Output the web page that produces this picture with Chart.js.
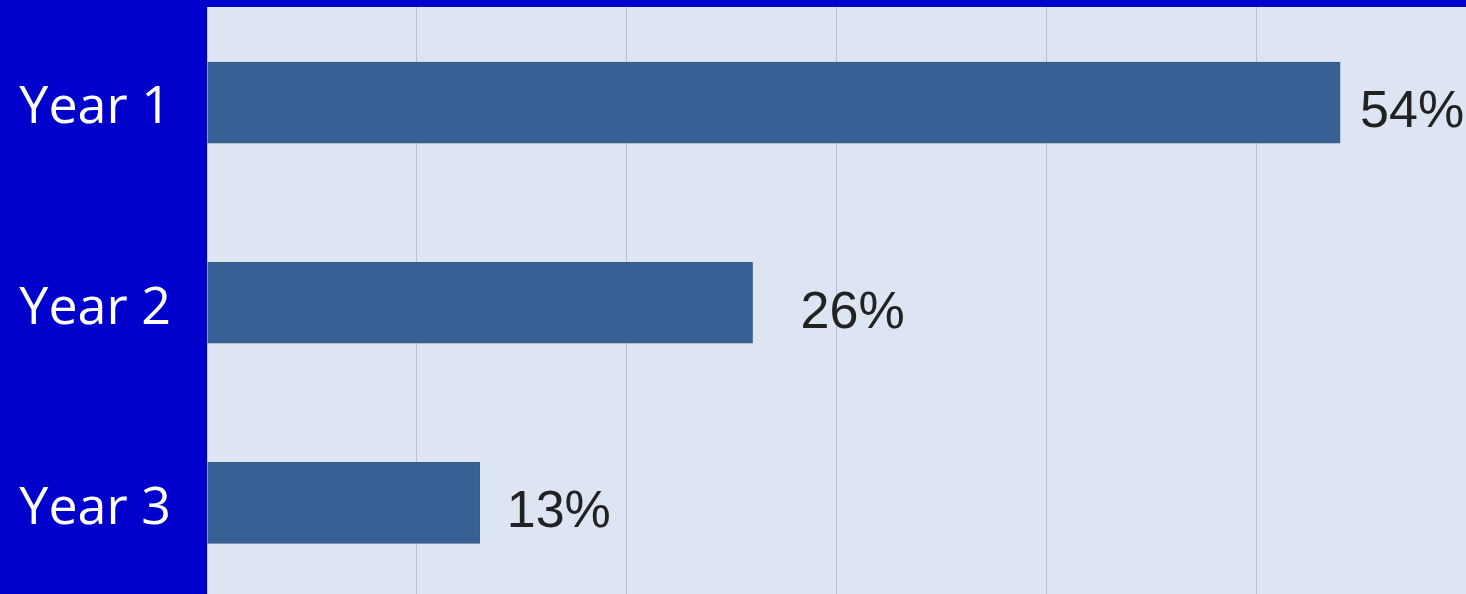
<!DOCTYPE html>
<html>
<head>
<meta charset="utf-8">
<script src="https://cdn.jsdelivr.net/npm/chart.js@4/dist/chart.umd.min.js"></script>
<style>
  html, body { margin: 0; padding: 0; background: #0000cc; overflow: hidden; }
  #wrap { width: 1466px; height: 594px; overflow: hidden; }
  canvas { display: block; }
</style>
</head>
<body>
<div id="wrap"><canvas id="yearChart" width="1466" height="603"></canvas></div>
<script>
// --- DATOS ---
const years = ['Year 1', 'Year 2', 'Year 3'];
const shares = [54, 26, 13];
const shareLabels = ['54%', '26%', '13%'];

// fondo gris azulado del área de trazado, con la franja azul arriba
const plotBackground = {
    id: 'plotBackground',
    beforeDraw(chart, args, opts) {
        const { ctx, chartArea } = chart;
        ctx.save();
        ctx.fillStyle = opts.color;
        ctx.fillRect(chartArea.left, opts.top, chartArea.right - chartArea.left, chartArea.bottom - opts.top);
        ctx.restore();
    },
    beforeDatasetsDraw(chart, args, opts) {
        // tapar las líneas de la rejilla que asoman sobre la franja superior
        const { ctx, chartArea } = chart;
        ctx.save();
        ctx.fillStyle = opts.band;
        ctx.fillRect(chartArea.left, 0, chartArea.right - chartArea.left, opts.top);
        ctx.restore();
    }
};

// etiquetas de porcentaje a la derecha de cada barra
const valueLabels = {
    id: 'valueLabels',
    afterDatasetsDraw(chart, args, opts) {
        const { ctx } = chart;
        const meta = chart.getDatasetMeta(0);
        ctx.save();
        ctx.font = opts.font;
        ctx.fillStyle = opts.color;
        ctx.textAlign = 'left';
        ctx.textBaseline = 'middle';
        meta.data.forEach((bar, i) => {
            ctx.fillText(shareLabels[i], bar.x + opts.pad[i], bar.y + opts.shift[i]);
        });
        ctx.restore();
    }
};

new Chart(document.getElementById('yearChart'), {
    type: 'bar',
    data: {
        labels: years,
        datasets: [{
            data: shares,
            backgroundColor: '#386094',
            borderColor: '#3a5a80',
            borderWidth: 1,
            borderSkipped: 'left',
            barThickness: 81
        }]
    },
    options: {
        indexAxis: 'y',
        responsive: false,
        animation: false,
        layout: { padding: { top: 2.5, right: 0, bottom: 0, left: 0 } },
        scales: {
            x: {
                min: 0,
                max: 60,
                afterFit(scale) { scale.height = 0; },
                ticks: { display: false, stepSize: 10 },
                grid: { color: '#b7c0cc', lineWidth: 1, drawTicks: false },
                border: { display: false }
            },
            y: {
                // ancho fijo de la columna azul, sin margen extra arriba/abajo
                afterFit(scale) {
                    scale.width = 207;
                    scale.paddingTop = 0;
                    scale.paddingBottom = 0;
                },
                ticks: {
                    color: '#ffffff',
                    font: { family: 'Open Sans', size: 52 },
                    padding: 36,
                    labelOffset: 6
                },
                grid: { display: false, drawTicks: false },
                border: { display: false }
            }
        },
        plugins: {
            legend: { display: false },
            tooltip: { enabled: false },
            plotBackground: { color: '#dce5f1', band: '#0000cc', top: 7 },
            valueLabels: {
                font: '52px "Liberation Sans", Arial, sans-serif',
                color: '#222222',
                pad: [20, 48, 27],
                shift: [10, 11, 10]
            }
        }
    },
    plugins: [plotBackground, valueLabels]
});
</script>
</body>
</html>
